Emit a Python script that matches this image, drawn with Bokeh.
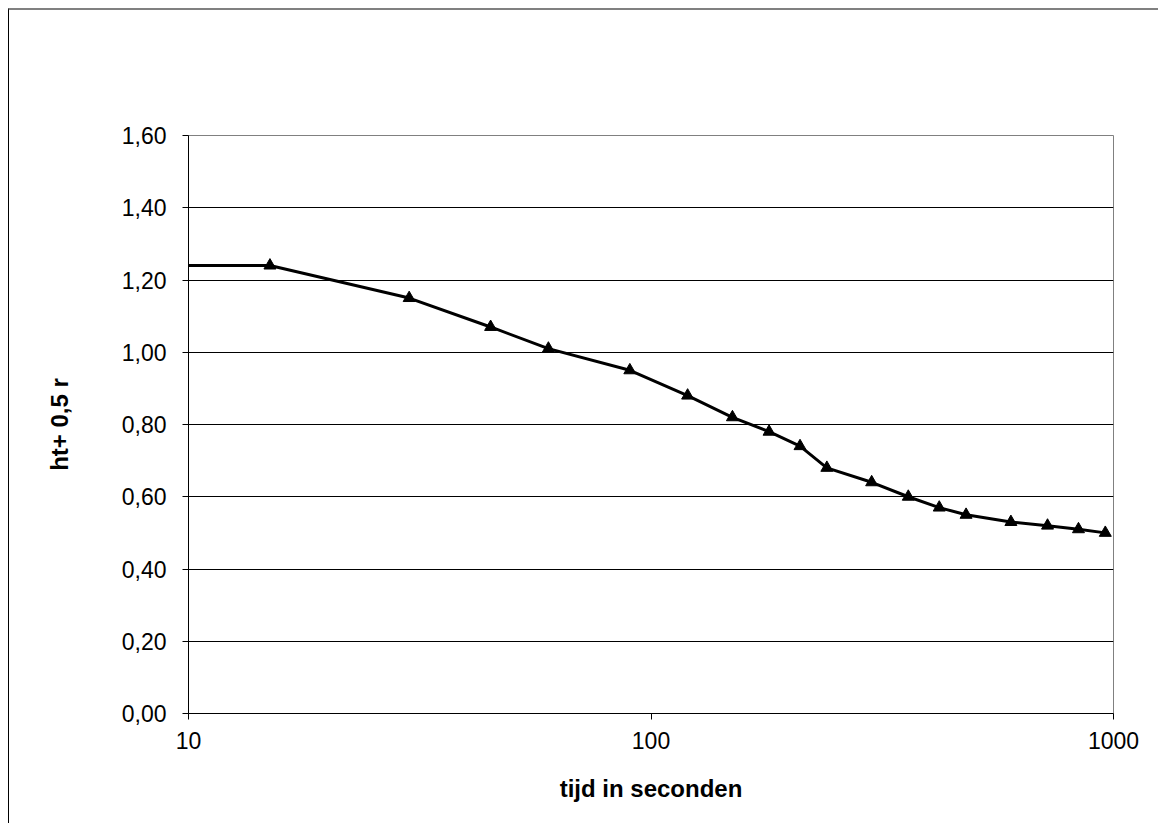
from bokeh.plotting import figure
from bokeh.models import FixedTicker, Range1d
from bokeh.embed import file_html
from bokeh.resources import INLINE

# Data
time_s = [5, 15, 30, 45, 60, 90, 120, 150, 180, 210, 240, 300, 360, 420, 480, 600, 720, 840, 960]
ht_05r = [1.24, 1.24, 1.15, 1.07, 1.01, 0.95, 0.88, 0.82, 0.78, 0.74, 0.68, 0.64, 0.60, 0.57, 0.55, 0.53, 0.52, 0.51, 0.50]

x_ticks = [10, 100, 1000]
x_tick_labels = ["10", "100", "1000"]
y_ticks = [0.0, 0.2, 0.4, 0.6, 0.8, 1.0, 1.2, 1.4, 1.6]
y_tick_labels = ["0,00", "0,20", "0,40", "0,60", "0,80", "1,00", "1,20", "1,40", "1,60"]

x_title = "tijd in seconden"
y_title = "ht+ 0,5 r"

FONT = "Liberation Sans"

p = figure(
    width=1150, height=815,
    x_axis_type="log",
    x_range=Range1d(10, 1000), y_range=Range1d(0, 1.6),
    output_backend="svg", toolbar_location=None,
    min_border_left=179, min_border_right=46,
    min_border_top=125, min_border_bottom=112,
    background_fill_color="white", border_fill_color="white",
)
p.styles = {
    "margin-left": "8px", "margin-top": "8px",
    "border-left": "1px solid black", "border-top": "2px solid #808080",
}

p.outline_line_color = "#808080"
p.outline_line_width = 1

# x axis
p.xaxis.ticker = FixedTicker(ticks=x_ticks, minor_ticks=[])
p.xaxis.major_label_overrides = dict(zip(x_ticks, x_tick_labels))
p.xaxis.axis_label = x_title
# y axis
p.yaxis.ticker = FixedTicker(ticks=y_ticks, minor_ticks=[])
p.yaxis.major_label_overrides = dict(zip(y_ticks, y_tick_labels))
p.yaxis.axis_label = y_title

for ax in (p.xaxis, p.yaxis):
    ax.axis_line_color = "black"
    ax.axis_line_width = 1
    ax.major_tick_line_color = "black"
    ax.major_tick_out = 6
    ax.major_tick_in = 0
    ax.minor_tick_line_color = None
    ax.major_label_text_font = FONT
    ax.major_label_text_font_size = "23px"
    ax.major_label_text_color = "black"
    ax.axis_label_text_font = FONT
    ax.axis_label_text_font_size = "24px"
    ax.axis_label_text_font_style = "bold"
    ax.axis_label_text_color = "black"

p.yaxis.major_label_standoff = 16
p.yaxis.axis_label_standoff = 46
p.xaxis.major_label_standoff = 12
p.xaxis.axis_label_standoff = 23

p.xgrid.visible = False
p.ygrid.ticker = FixedTicker(ticks=[t for t in y_ticks if t < 1.6])
p.ygrid.grid_line_color = "black"
p.ygrid.grid_line_width = 1

p.line(time_s, ht_05r, line_color="black", line_width=3)
p.scatter(time_s, ht_05r, marker="triangle", size=12, fill_color="black", line_color="black")

open("out.html", "w").write(file_html(p, INLINE))
